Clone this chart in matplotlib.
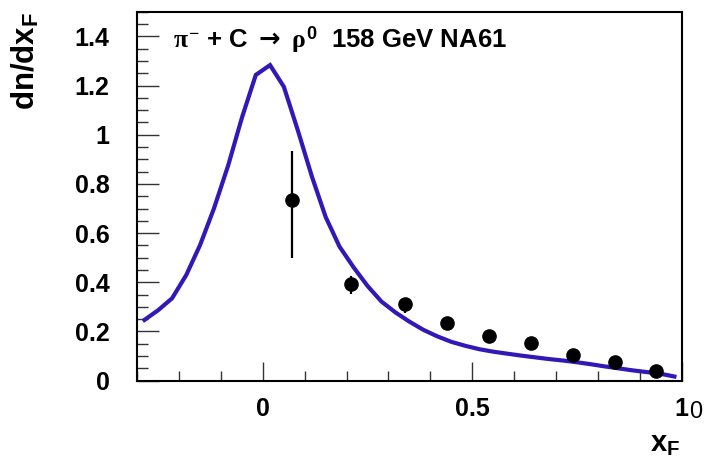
import matplotlib
matplotlib.use('Agg')
import matplotlib.pyplot as plt
from matplotlib.ticker import MultipleLocator, FixedLocator, FixedFormatter

# model curve (bin centres, dn/dxF)
x_curve = [-0.283, -0.25, -0.217, -0.183, -0.15, -0.117, -0.083, -0.05, -0.017,
           0.017, 0.05, 0.083, 0.117, 0.15, 0.183, 0.217, 0.25, 0.283, 0.317,
           0.35, 0.383, 0.417, 0.45, 0.483, 0.517, 0.55, 0.583, 0.617, 0.65,
           0.683, 0.717, 0.75, 0.783, 0.817, 0.85, 0.883, 0.917, 0.95, 0.983]
y_curve = [0.247, 0.287, 0.335, 0.43, 0.552, 0.70, 0.875, 1.07, 1.243,
           1.283, 1.195, 1.02, 0.83, 0.665, 0.545, 0.46, 0.385, 0.322, 0.277,
           0.24, 0.207, 0.18, 0.158, 0.142, 0.128, 0.118, 0.11, 0.102, 0.095,
           0.088, 0.082, 0.075, 0.067, 0.058, 0.05, 0.042, 0.035, 0.028, 0.017]

# NA61 data points
x_data = [0.07, 0.21, 0.34, 0.44, 0.54, 0.64, 0.74, 0.84, 0.94]
y_data = [0.735, 0.394, 0.312, 0.236, 0.182, 0.152, 0.104, 0.075, 0.039]
err_lo = [0.238, 0.042, 0.038, 0.015, 0.012, 0.010, 0.010, 0.010, 0.008]
err_hi = [0.200, 0.030, 0.025, 0.015, 0.012, 0.010, 0.010, 0.010, 0.008]

x_major = [0, 0.5, 1]
x_labels = ['0', '0.5', '1']
y_major = [0, 0.2, 0.4, 0.6, 0.8, 1.0, 1.2, 1.4]
y_labels = ['0', '0.2', '0.4', '0.6', '0.8', '1', '1.2', '1.4']

plt.rcParams['font.family'] = ['Liberation Sans', 'DejaVu Sans']
plt.rcParams['font.weight'] = 'bold'
plt.rcParams['mathtext.fontset'] = 'custom'
plt.rcParams['mathtext.rm'] = 'Liberation Serif'
plt.rcParams['mathtext.it'] = 'Liberation Serif'
plt.rcParams['mathtext.sf'] = 'DejaVu Sans'
plt.rcParams['mathtext.bf'] = 'Liberation Sans:bold'

fig = plt.figure(figsize=(7.05, 4.61), dpi=100)
ax = fig.add_axes([0.1948, 0.1742, 0.7719, 0.8004])

ax.plot(x_curve, y_curve, color='#3318b8', lw=3, solid_joinstyle='miter', zorder=2)
ax.errorbar(x_data, y_data, yerr=[err_lo, err_hi], fmt='o', color='black',
            ms=9.5, elinewidth=1.6, capsize=0, zorder=3)

ax.set_xlim(-0.3, 1.0)
ax.set_ylim(0, 1.5)
ax.xaxis.set_major_locator(FixedLocator(x_major))
ax.xaxis.set_major_formatter(FixedFormatter(x_labels))
ax.xaxis.set_minor_locator(MultipleLocator(0.1))
ax.yaxis.set_major_locator(FixedLocator(y_major))
ax.yaxis.set_major_formatter(FixedFormatter(y_labels))
ax.yaxis.set_minor_locator(MultipleLocator(0.05))

ax.tick_params(which='both', direction='in', top=False, right=False, width=1, color='#333333')
ax.tick_params(axis='y', which='major', length=16, pad=20, labelsize=18)
ax.tick_params(axis='y', which='minor', length=8)
ax.tick_params(axis='x', which='major', length=14, pad=12, labelsize=18)
ax.tick_params(axis='x', which='minor', length=7)
for s in ax.spines.values():
    s.set_linewidth(1.5)

ax.text(0.0656, 0.904,
        r'$\pi^{-}$ + C $\mathsf{\rightarrow}$ $\rho^{\mathbf{0}}$  158 GeV NA61',
        transform=ax.transAxes, fontsize=18.5, va='baseline', ha='left')

fig.text(0.036, 0.974, r'dn/dx$_{\mathbf{F}}$', rotation=90, fontsize=22.5,
         ha='center', va='top')
fig.text(0.922, 1 - 452 / 461, r'x$_{\mathbf{F}}$', fontsize=21, ha='left', va='baseline')
fig.text(689 / 705, 1 - 401 / 461, '0', fontsize=17, fontweight='normal', ha='left', va='top')

fig.savefig('out.png', dpi=100)
